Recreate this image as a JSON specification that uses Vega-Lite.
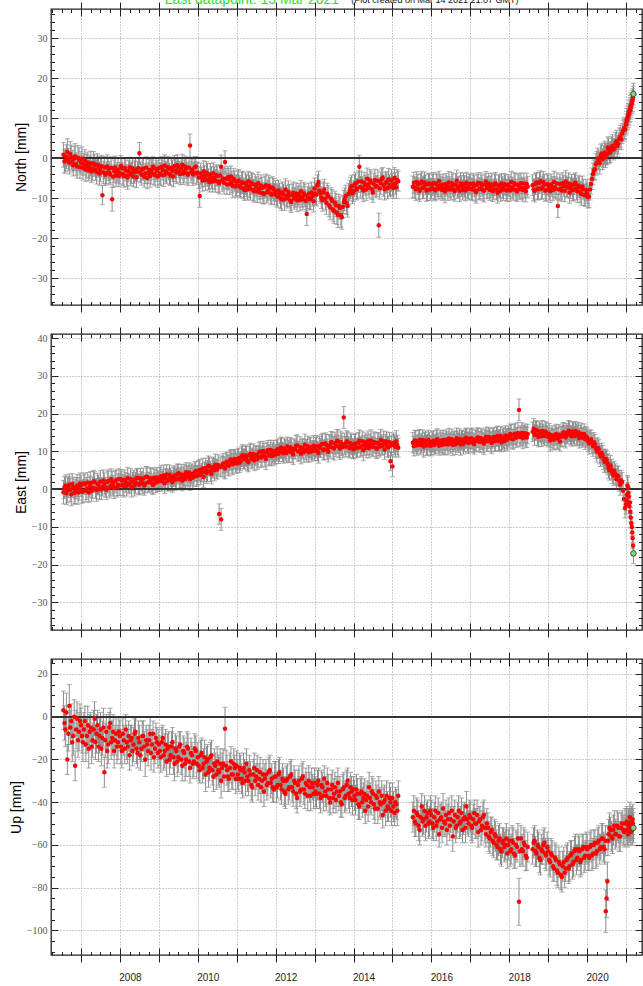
{
"$schema": "https://vega.github.io/schema/vega-lite/v6.json",
"padding": {"left": 8, "top": -8, "right": 0, "bottom": 0},
"background": "white",
"title": {"text": "Last datapoint: 13 Mar 2021", "anchor": "start", "dx": 156, "dy": 12, "offset": 0, "fontSize": 14, "font": "Liberation Sans", "fontWeight": "normal", "color": "#33dd33"},
"data": {"values": [
{"t":2006.55,"n":0.8,"e":-0.8,"u":3,"sh":3.1,"sv":9},
{"t":2006.575,"n":-0.9,"e":0.4,"u":-3,"sh":2.9,"sv":8},
{"t":2006.60,"n":-0.6,"e":0.9,"u":-6,"sh":2.9,"sv":8},
{"t":2006.625,"n":0.3,"e":-1.1,"u":2,"sh":3.0,"sv":9},
{"t":2006.65,"n":1.5,"e":-0.3,"u":-20,"sh":3.3,"sv":7},
{"t":2006.675,"n":-0.4,"e":0.6,"u":-8,"sh":2.8,"sv":8},
{"t":2006.70,"n":-1.2,"e":1.2,"u":5,"sh":2.8,"sv":10},
{"t":2006.725,"n":1.0,"e":-0.2,"u":-5,"sh":3.1,"sv":8},
{"t":2006.75,"n":0.2,"e":-1.4,"u":-2,"sh":3.0,"sv":8},
{"t":2006.775,"n":-0.8,"e":1.4,"u":-12,"sh":2.7,"sv":9},
{"t":2006.80,"n":-1.8,"e":0.5,"u":-9,"sh":2.7,"sv":9},
{"t":2006.825,"n":-0.1,"e":-1.0,"u":0,"sh":3.0,"sv":8},
{"t":2006.85,"n":0.4,"e":-0.6,"u":-23,"sh":3.2,"sv":7},
{"t":2006.875,"n":-1.5,"e":0.3,"u":-6,"sh":2.8,"sv":9},
{"t":2006.90,"n":-2.1,"e":1.0,"u":-1,"sh":2.9,"sv":8},
{"t":2006.925,"n":0.0,"e":-0.9,"u":-11,"sh":3.1,"sv":8},
{"t":2006.95,"n":-0.5,"e":0.1,"u":-7,"sh":3.0,"sv":9},
{"t":2006.975,"n":-2.3,"e":1.5,"u":-2,"sh":2.8,"sv":8},
{"t":2007.00,"n":-1.2,"e":0.9,"u":-4,"sh":2.8,"sv":8},
{"t":2007.025,"n":-0.2,"e":-0.7,"u":-9,"sh":3.0,"sv":8},
{"t":2007.05,"n":-2.5,"e":-0.5,"u":-12,"sh":3.0,"sv":9},
{"t":2007.075,"n":-1.6,"e":1.6,"u":-6,"sh":2.7,"sv":8},
{"t":2007.10,"n":-0.6,"e":1.3,"u":-2,"sh":2.7,"sv":7},
{"t":2007.125,"n":-2.9,"e":-0.4,"u":-13,"sh":2.9,"sv":8},
{"t":2007.15,"n":-2.0,"e":0.2,"u":-9,"sh":2.9,"sv":8},
{"t":2007.175,"n":-1.1,"e":1.8,"u":-4,"sh":2.6,"sv":9},
{"t":2007.20,"n":-3.1,"e":-0.9,"u":-15,"sh":2.6,"sv":9},
{"t":2007.225,"n":-2.3,"e":0.7,"u":-7,"sh":2.8,"sv":8},
{"t":2007.25,"n":-1.4,"e":1.6,"u":-5,"sh":3.1,"sv":7},
{"t":2007.275,"n":-3.4,"e":-0.5,"u":-14,"sh":2.7,"sv":8},
{"t":2007.30,"n":-2.8,"e":0.4,"u":-11,"sh":2.8,"sv":8},
{"t":2007.325,"n":-1.3,"e":2.1,"u":-6,"sh":2.9,"sv":9},
{"t":2007.35,"n":-1.9,"e":1.9,"u":-1,"sh":2.7,"sv":8},
{"t":2007.375,"n":-3.0,"e":0.1,"u":-12,"sh":2.6,"sv":8},
{"t":2007.40,"n":-3.5,"e":-0.2,"u":-8,"sh":3.0,"sv":9},
{"t":2007.425,"n":-1.7,"e":1.4,"u":-4,"sh":2.8,"sv":7},
{"t":2007.45,"n":-2.2,"e":1.1,"u":-14,"sh":2.6,"sv":7},
{"t":2007.475,"n":-3.9,"e":0.2,"u":-9,"sh":2.9,"sv":8},
{"t":2007.50,"n":-3.0,"e":2.0,"u":-6,"sh":2.9,"sv":8},
{"t":2007.525,"n":-2.0,"e":0.0,"u":-15,"sh":2.7,"sv":8},
{"t":2007.55,"n":-9.3,"e":0.6,"u":-10,"sh":2.4,"sv":8},
{"t":2007.575,"n":-3.6,"e":2.3,"u":-5,"sh":2.8,"sv":9},
{"t":2007.60,"n":-2.4,"e":1.5,"u":-26,"sh":2.8,"sv":7},
{"t":2007.625,"n":-4.2,"e":0.5,"u":-11,"sh":2.6,"sv":8},
{"t":2007.65,"n":-3.8,"e":-0.1,"u":-7,"sh":2.7,"sv":8},
{"t":2007.675,"n":-2.1,"e":1.9,"u":-16,"sh":2.9,"sv":8},
{"t":2007.70,"n":-2.7,"e":2.2,"u":-13,"sh":2.9,"sv":9},
{"t":2007.725,"n":-3.6,"e":0.4,"u":-5,"sh":2.7,"sv":7},
{"t":2007.75,"n":-4.1,"e":0.8,"u":-3,"sh":2.6,"sv":7},
{"t":2007.775,"n":-2.5,"e":2.6,"u":-12,"sh":2.8,"sv":8},
{"t":2007.80,"n":-10.3,"e":1.7,"u":-10,"sh":3.0,"sv":8},
{"t":2007.825,"n":-4.6,"e":0.9,"u":-7,"sh":2.7,"sv":8},
{"t":2007.85,"n":-3.3,"e":0.3,"u":-16,"sh":2.8,"sv":8},
{"t":2007.875,"n":-2.4,"e":2.0,"u":-11,"sh":2.9,"sv":7},
{"t":2007.90,"n":-4.4,"e":2.4,"u":-8,"sh":2.7,"sv":7},
{"t":2007.925,"n":-3.7,"e":0.5,"u":-14,"sh":2.6,"sv":8},
{"t":2007.95,"n":-2.9,"e":1.2,"u":-12,"sh":2.9,"sv":8},
{"t":2007.975,"n":-4.5,"e":2.7,"u":-7,"sh":2.7,"sv":7},
{"t":2008.00,"n":-3.8,"e":1.0,"u":-9,"sh":2.7,"sv":7},
{"t":2008.025,"n":-2.0,"e":2.6,"u":-14,"sh":2.6,"sv":8},
{"t":2008.05,"n":-2.6,"e":2.3,"u":-16,"sh":2.5,"sv":8},
{"t":2008.075,"n":-4.0,"e":1.1,"u":-8,"sh":2.8,"sv":7},
{"t":2008.10,"n":-4.5,"e":0.7,"u":-11,"sh":2.8,"sv":7},
{"t":2008.125,"n":-2.5,"e":2.5,"u":-15,"sh":2.6,"sv":7},
{"t":2008.15,"n":-3.1,"e":1.8,"u":-6,"sh":2.6,"sv":7},
{"t":2008.175,"n":-4.4,"e":0.9,"u":-12,"sh":2.7,"sv":8},
{"t":2008.20,"n":-4.9,"e":2.9,"u":-14,"sh":2.9,"sv":8},
{"t":2008.225,"n":-3.3,"e":1.6,"u":-9,"sh":2.6,"sv":7},
{"t":2008.25,"n":-2.3,"e":1.3,"u":-18,"sh":2.5,"sv":7},
{"t":2008.275,"n":-4.1,"e":2.7,"u":-11,"sh":2.8,"sv":7},
{"t":2008.30,"n":-3.7,"e":0.6,"u":-10,"sh":2.7,"sv":6},
{"t":2008.325,"n":-2.6,"e":2.0,"u":-16,"sh":2.5,"sv":7},
{"t":2008.35,"n":-4.6,"e":2.4,"u":-13,"sh":2.6,"sv":8},
{"t":2008.375,"n":-3.5,"e":1.0,"u":-8,"sh":2.8,"sv":7},
{"t":2008.40,"n":-2.9,"e":1.7,"u":-7,"sh":2.8,"sv":7},
{"t":2008.425,"n":-4.8,"e":2.8,"u":-15,"sh":2.6,"sv":7},
{"t":2008.45,"n":-3.4,"e":3.0,"u":-17,"sh":2.5,"sv":7},
{"t":2008.475,"n":-2.5,"e":1.4,"u":-10,"sh":2.7,"sv":8},
{"t":2008.50,"n":1.2,"e":1.2,"u":-12,"sh":2.7,"sv":8},
{"t":2008.525,"n":-3.6,"e":2.9,"u":-18,"sh":2.6,"sv":7},
{"t":2008.55,"n":-4.2,"e":2.1,"u":-15,"sh":2.6,"sv":6},
{"t":2008.575,"n":-2.8,"e":1.6,"u":-9,"sh":2.8,"sv":7},
{"t":2008.60,"n":-2.7,"e":2.8,"u":-9,"sh":2.8,"sv":7},
{"t":2008.625,"n":-4.7,"e":1.0,"u":-14,"sh":2.6,"sv":7},
{"t":2008.65,"n":-3.9,"e":1.5,"u":-20,"sh":2.5,"sv":8},
{"t":2008.675,"n":-2.4,"e":3.3,"u":-11,"sh":2.7,"sv":7},
{"t":2008.70,"n":-5.0,"e":3.2,"u":-13,"sh":2.7,"sv":7},
{"t":2008.725,"n":-3.8,"e":1.8,"u":-16,"sh":2.6,"sv":7},
{"t":2008.75,"n":-3.0,"e":1.9,"u":-11,"sh":2.6,"sv":7},
{"t":2008.775,"n":-4.5,"e":2.9,"u":-8,"sh":2.8,"sv":8},
{"t":2008.80,"n":-3.6,"e":2.6,"u":-17,"sh":2.9,"sv":8},
{"t":2008.825,"n":-2.8,"e":1.5,"u":-13,"sh":2.6,"sv":7},
{"t":2008.85,"n":-2.2,"e":1.1,"u":-8,"sh":2.5,"sv":6},
{"t":2008.875,"n":-4.0,"e":3.0,"u":-19,"sh":2.7,"sv":7},
{"t":2008.90,"n":-4.3,"e":2.5,"u":-15,"sh":2.7,"sv":7},
{"t":2008.925,"n":-2.7,"e":1.7,"u":-10,"sh":2.6,"sv":7},
{"t":2008.95,"n":-3.2,"e":3.1,"u":-12,"sh":2.6,"sv":7},
{"t":2008.975,"n":-4.6,"e":2.2,"u":-17,"sh":2.8,"sv":7},
{"t":2009.00,"n":-2.5,"e":2.0,"u":-13,"sh":2.6,"sv":7},
{"t":2009.025,"n":-3.9,"e":3.0,"u":-16,"sh":2.7,"sv":7},
{"t":2009.05,"n":-4.1,"e":3.4,"u":-19,"sh":2.8,"sv":7},
{"t":2009.075,"n":-2.2,"e":2.1,"u":-12,"sh":2.6,"sv":7},
{"t":2009.10,"n":-3.0,"e":2.7,"u":-10,"sh":2.5,"sv":6},
{"t":2009.125,"n":-4.3,"e":3.6,"u":-18,"sh":2.8,"sv":7},
{"t":2009.15,"n":-1.9,"e":1.6,"u":-16,"sh":2.7,"sv":8},
{"t":2009.175,"n":-3.4,"e":2.9,"u":-13,"sh":2.6,"sv":7},
{"t":2009.20,"n":-3.8,"e":3.9,"u":-21,"sh":2.6,"sv":7},
{"t":2009.225,"n":-2.3,"e":2.2,"u":-15,"sh":2.7,"sv":7},
{"t":2009.25,"n":-2.7,"e":2.4,"u":-14,"sh":2.8,"sv":7},
{"t":2009.275,"n":-4.0,"e":3.8,"u":-20,"sh":2.6,"sv":7},
{"t":2009.30,"n":-4.4,"e":3.1,"u":-18,"sh":2.5,"sv":6},
{"t":2009.325,"n":-2.5,"e":2.3,"u":-14,"sh":2.7,"sv":7},
{"t":2009.35,"n":-3.2,"e":1.9,"u":-12,"sh":2.7,"sv":7},
{"t":2009.375,"n":-4.6,"e":3.3,"u":-19,"sh":2.6,"sv":8},
{"t":2009.40,"n":-2.0,"e":3.6,"u":-22,"sh":2.6,"sv":8},
{"t":2009.425,"n":-3.1,"e":2.5,"u":-15,"sh":2.8,"sv":7},
{"t":2009.45,"n":-3.6,"e":2.8,"u":-16,"sh":2.8,"sv":7},
{"t":2009.475,"n":-1.8,"e":4.0,"u":-21,"sh":2.6,"sv":7},
{"t":2009.50,"n":-2.4,"e":4.2,"u":-19,"sh":2.5,"sv":7},
{"t":2009.525,"n":-3.5,"e":2.6,"u":-14,"sh":2.7,"sv":7},
{"t":2009.55,"n":-4.0,"e":3.0,"u":-13,"sh":2.7,"sv":6},
{"t":2009.575,"n":-2.6,"e":3.9,"u":-20,"sh":2.6,"sv":7},
{"t":2009.60,"n":-1.7,"e":2.2,"u":-23,"sh":2.6,"sv":7},
{"t":2009.625,"n":-3.9,"e":3.2,"u":-16,"sh":2.7,"sv":7},
{"t":2009.65,"n":-3.3,"e":3.8,"u":-17,"sh":2.8,"sv":7},
{"t":2009.675,"n":-2.1,"e":2.7,"u":-22,"sh":2.6,"sv":8},
{"t":2009.70,"n":-2.6,"e":4.5,"u":-20,"sh":2.5,"sv":8},
{"t":2009.725,"n":-3.8,"e":3.6,"u":-14,"sh":2.7,"sv":7},
{"t":2009.75,"n":-4.2,"e":3.3,"u":-15,"sh":2.7,"sv":7},
{"t":2009.775,"n":-2.4,"e":4.4,"u":-21,"sh":2.6,"sv":7},
{"t":2009.80,"n":3.1,"e":2.6,"u":-24,"sh":2.9,"sv":7},
{"t":2009.825,"n":-3.5,"e":3.7,"u":-17,"sh":2.7,"sv":7},
{"t":2009.85,"n":-2.9,"e":4.1,"u":-18,"sh":2.6,"sv":6},
{"t":2009.875,"n":-4.1,"e":3.0,"u":-22,"sh":2.8,"sv":7},
{"t":2009.90,"n":-3.7,"e":3.5,"u":-21,"sh":2.7,"sv":7},
{"t":2009.925,"n":-2.3,"e":4.6,"u":-15,"sh":2.6,"sv":7},
{"t":2009.95,"n":-2.1,"e":4.8,"u":-16,"sh":2.5,"sv":7},
{"t":2009.975,"n":-3.9,"e":3.4,"u":-22,"sh":2.7,"sv":7},
{"t":2010.00,"n":-3.6,"e":3.7,"u":-19,"sh":2.6,"sv":7},
{"t":2010.025,"n":-4.9,"e":4.9,"u":-23,"sh":2.7,"sv":7},
{"t":2010.05,"n":-9.5,"e":5.1,"u":-25,"sh":2.8,"sv":6},
{"t":2010.075,"n":-3.9,"e":3.8,"u":-18,"sh":2.6,"sv":7},
{"t":2010.10,"n":-4.8,"e":4.4,"u":-17,"sh":2.5,"sv":7},
{"t":2010.125,"n":-5.6,"e":5.5,"u":-24,"sh":2.7,"sv":7},
{"t":2010.15,"n":-3.4,"e":3.2,"u":-22,"sh":2.7,"sv":7},
{"t":2010.175,"n":-4.5,"e":4.6,"u":-19,"sh":2.6,"sv":8},
{"t":2010.20,"n":-5.5,"e":5.6,"u":-27,"sh":2.6,"sv":8},
{"t":2010.225,"n":-3.7,"e":4.3,"u":-21,"sh":2.8,"sv":7},
{"t":2010.25,"n":-4.2,"e":4.8,"u":-20,"sh":2.8,"sv":7},
{"t":2010.275,"n":-5.3,"e":6.2,"u":-26,"sh":2.6,"sv":7},
{"t":2010.30,"n":-6.0,"e":6.0,"u":-24,"sh":2.5,"sv":6},
{"t":2010.325,"n":-4.1,"e":4.7,"u":-19,"sh":2.7,"sv":7},
{"t":2010.35,"n":-4.9,"e":4.1,"u":-18,"sh":2.7,"sv":7},
{"t":2010.375,"n":-5.9,"e":5.6,"u":-25,"sh":2.6,"sv":7},
{"t":2010.40,"n":-3.8,"e":5.9,"u":-28,"sh":2.6,"sv":7},
{"t":2010.425,"n":-5.0,"e":5.0,"u":-22,"sh":2.8,"sv":7},
{"t":2010.45,"n":-5.7,"e":6.5,"u":-23,"sh":2.8,"sv":6},
{"t":2010.475,"n":-4.3,"e":5.4,"u":-27,"sh":2.6,"sv":7},
{"t":2010.50,"n":-4.5,"e":5.2,"u":-21,"sh":2.5,"sv":7},
{"t":2010.525,"n":-5.9,"e":6.4,"u":-25,"sh":2.7,"sv":7},
{"t":2010.55,"n":-6.3,"e":-6.6,"u":-26,"sh":2.7,"sv":7},
{"t":2010.575,"n":-4.4,"e":5.9,"u":-22,"sh":2.6,"sv":7},
{"t":2010.60,"n":-2.2,"e":-8.0,"u":-30,"sh":2.9,"sv":8},
{"t":2010.625,"n":-5.6,"e":6.1,"u":-24,"sh":2.7,"sv":7},
{"t":2010.65,"n":-5.1,"e":6.8,"u":-22,"sh":2.6,"sv":7},
{"t":2010.675,"n":-6.2,"e":5.8,"u":-28,"sh":2.8,"sv":7},
{"t":2010.70,"n":-1.0,"e":5.5,"u":-5.6,"sh":2.8,"sv":10},
{"t":2010.725,"n":-5.2,"e":7.0,"u":-23,"sh":2.6,"sv":7},
{"t":2010.75,"n":-6.6,"e":7.3,"u":-25,"sh":2.5,"sv":7},
{"t":2010.775,"n":-4.8,"e":6.4,"u":-28,"sh":2.7,"sv":7},
{"t":2010.80,"n":-5.3,"e":6.2,"u":-29,"sh":2.7,"sv":6},
{"t":2010.825,"n":-6.5,"e":7.6,"u":-24,"sh":2.6,"sv":7},
{"t":2010.85,"n":-4.6,"e":7.9,"u":-21,"sh":2.6,"sv":7},
{"t":2010.875,"n":-6.0,"e":6.9,"u":-27,"sh":2.7,"sv":7},
{"t":2010.90,"n":-7.0,"e":6.6,"u":-27,"sh":2.8,"sv":7},
{"t":2010.925,"n":-5.2,"e":7.7,"u":-22,"sh":2.6,"sv":7},
{"t":2010.95,"n":-5.8,"e":8.0,"u":-24,"sh":2.5,"sv":6},
{"t":2010.975,"n":-7.1,"e":7.2,"u":-29,"sh":2.7,"sv":7},
{"t":2011.00,"n":-6.8,"e":6.8,"u":-23,"sh":2.6,"sv":7},
{"t":2011.025,"n":-5.9,"e":7.9,"u":-27,"sh":2.7,"sv":7},
{"t":2011.05,"n":-5.6,"e":8.2,"u":-29,"sh":2.7,"sv":6},
{"t":2011.075,"n":-7.0,"e":7.0,"u":-24,"sh":2.6,"sv":7},
{"t":2011.10,"n":-7.4,"e":7.4,"u":-25,"sh":2.5,"sv":7},
{"t":2011.125,"n":-6.2,"e":8.7,"u":-29,"sh":2.7,"sv":7},
{"t":2011.15,"n":-6.1,"e":9.0,"u":-31,"sh":2.8,"sv":7},
{"t":2011.175,"n":-7.6,"e":8.1,"u":-24,"sh":2.6,"sv":7},
{"t":2011.20,"n":-8.0,"e":7.9,"u":-26,"sh":2.6,"sv":6},
{"t":2011.225,"n":-6.4,"e":8.9,"u":-30,"sh":2.7,"sv":7},
{"t":2011.25,"n":-6.9,"e":8.6,"u":-22,"sh":2.7,"sv":7},
{"t":2011.275,"n":-7.9,"e":7.5,"u":-28,"sh":2.6,"sv":7},
{"t":2011.30,"n":-5.8,"e":7.1,"u":-30,"sh":2.5,"sv":7},
{"t":2011.325,"n":-7.1,"e":9.0,"u":-25,"sh":2.8,"sv":7},
{"t":2011.35,"n":-7.7,"e":9.4,"u":-27,"sh":2.8,"sv":6},
{"t":2011.375,"n":-6.2,"e":8.0,"u":-32,"sh":2.6,"sv":7},
{"t":2011.40,"n":-6.5,"e":8.3,"u":-33,"sh":2.6,"sv":7},
{"t":2011.425,"n":-8.0,"e":9.3,"u":-27,"sh":2.7,"sv":7},
{"t":2011.45,"n":-8.3,"e":7.6,"u":-24,"sh":2.7,"sv":7},
{"t":2011.475,"n":-6.7,"e":8.8,"u":-30,"sh":2.6,"sv":7},
{"t":2011.50,"n":-7.2,"e":9.1,"u":-28,"sh":2.5,"sv":6},
{"t":2011.525,"n":-8.4,"e":7.9,"u":-25,"sh":2.7,"sv":7},
{"t":2011.55,"n":-6.3,"e":8.5,"u":-32,"sh":2.8,"sv":7},
{"t":2011.575,"n":-7.7,"e":9.7,"u":-29,"sh":2.6,"sv":7},
{"t":2011.60,"n":-8.6,"e":10.0,"u":-26,"sh":2.6,"sv":7},
{"t":2011.625,"n":-6.9,"e":8.4,"u":-33,"sh":2.7,"sv":7},
{"t":2011.65,"n":-7.5,"e":8.8,"u":-30,"sh":2.7,"sv":6},
{"t":2011.675,"n":-8.8,"e":10.1,"u":-27,"sh":2.6,"sv":7},
{"t":2011.70,"n":-9.0,"e":9.6,"u":-35,"sh":2.5,"sv":7},
{"t":2011.725,"n":-7.2,"e":8.6,"u":-29,"sh":2.7,"sv":7},
{"t":2011.75,"n":-6.8,"e":8.0,"u":-27,"sh":2.8,"sv":7},
{"t":2011.775,"n":-8.6,"e":9.8,"u":-32,"sh":2.6,"sv":7},
{"t":2011.80,"n":-8.1,"e":10.3,"u":-31,"sh":2.6,"sv":6},
{"t":2011.825,"n":-7.0,"e":8.9,"u":-26,"sh":2.7,"sv":7},
{"t":2011.85,"n":-7.6,"e":9.2,"u":-25,"sh":2.7,"sv":7},
{"t":2011.875,"n":-8.9,"e":10.4,"u":-31,"sh":2.6,"sv":7},
{"t":2011.90,"n":-9.2,"e":8.7,"u":-29,"sh":2.5,"sv":7},
{"t":2011.925,"n":-7.4,"e":9.6,"u":-33,"sh":2.7,"sv":7},
{"t":2011.95,"n":-7.9,"e":10.1,"u":-34,"sh":2.8,"sv":6},
{"t":2011.975,"n":-9.0,"e":9.0,"u":-28,"sh":2.6,"sv":7},
{"t":2012.00,"n":-8.2,"e":9.3,"u":-28,"sh":2.6,"sv":7},
{"t":2012.025,"n":-9.3,"e":10.3,"u":-33,"sh":2.7,"sv":7},
{"t":2012.05,"n":-9.6,"e":10.6,"u":-32,"sh":2.7,"sv":6},
{"t":2012.075,"n":-8.1,"e":9.4,"u":-27,"sh":2.6,"sv":7},
{"t":2012.10,"n":-8.8,"e":9.8,"u":-26,"sh":2.5,"sv":7},
{"t":2012.125,"n":-9.9,"e":10.9,"u":-32,"sh":2.7,"sv":7},
{"t":2012.15,"n":-10.3,"e":11.0,"u":-34,"sh":2.8,"sv":7},
{"t":2012.175,"n":-8.6,"e":9.9,"u":-29,"sh":2.6,"sv":7},
{"t":2012.20,"n":-9.1,"e":9.5,"u":-30,"sh":2.6,"sv":6},
{"t":2012.225,"n":-10.4,"e":10.8,"u":-35,"sh":2.7,"sv":7},
{"t":2012.25,"n":-7.9,"e":10.4,"u":-36,"sh":2.7,"sv":7},
{"t":2012.275,"n":-9.5,"e":9.6,"u":-30,"sh":2.6,"sv":7},
{"t":2012.30,"n":-10.0,"e":11.3,"u":-29,"sh":2.5,"sv":7},
{"t":2012.325,"n":-8.5,"e":10.2,"u":-34,"sh":2.8,"sv":7},
{"t":2012.35,"n":-9.4,"e":9.9,"u":-33,"sh":2.8,"sv":6},
{"t":2012.375,"n":-10.6,"e":11.1,"u":-28,"sh":2.6,"sv":7},
{"t":2012.40,"n":-11.0,"e":10.8,"u":-27,"sh":2.6,"sv":7},
{"t":2012.425,"n":-9.2,"e":9.7,"u":-33,"sh":2.7,"sv":7},
{"t":2012.45,"n":-8.7,"e":9.2,"u":-35,"sh":2.7,"sv":7},
{"t":2012.475,"n":-10.2,"e":10.7,"u":-30,"sh":2.6,"sv":7},
{"t":2012.50,"n":-9.8,"e":10.5,"u":-31,"sh":2.5,"sv":6},
{"t":2012.525,"n":-8.9,"e":11.5,"u":-36,"sh":2.7,"sv":7},
{"t":2012.55,"n":-10.6,"e":11.6,"u":-38,"sh":2.8,"sv":7},
{"t":2012.575,"n":-9.6,"e":10.0,"u":-32,"sh":2.6,"sv":7},
{"t":2012.60,"n":-9.0,"e":10.1,"u":-30,"sh":2.6,"sv":7},
{"t":2012.625,"n":-10.5,"e":11.2,"u":-35,"sh":2.7,"sv":7},
{"t":2012.65,"n":-8.3,"e":9.4,"u":-34,"sh":2.7,"sv":6},
{"t":2012.675,"n":-9.7,"e":10.6,"u":-29,"sh":2.6,"sv":7},
{"t":2012.70,"n":-10.4,"e":10.9,"u":-28,"sh":2.5,"sv":7},
{"t":2012.725,"n":-8.8,"e":9.8,"u":-34,"sh":2.7,"sv":7},
{"t":2012.75,"n":-9.3,"e":11.8,"u":-36,"sh":2.8,"sv":7},
{"t":2012.775,"n":-10.7,"e":10.5,"u":-31,"sh":2.6,"sv":7},
{"t":2012.80,"n":-14.0,"e":10.3,"u":-32,"sh":2.9,"sv":6},
{"t":2012.825,"n":-9.9,"e":11.4,"u":-37,"sh":2.7,"sv":7},
{"t":2012.85,"n":-8.9,"e":9.7,"u":-30,"sh":2.6,"sv":7},
{"t":2012.875,"n":-10.3,"e":10.9,"u":-33,"sh":2.7,"sv":7},
{"t":2012.90,"n":-10.1,"e":11.1,"u":-37,"sh":2.7,"sv":7},
{"t":2012.925,"n":-8.6,"e":10.0,"u":-31,"sh":2.6,"sv":7},
{"t":2012.95,"n":-9.5,"e":10.4,"u":-33,"sh":2.5,"sv":6},
{"t":2012.975,"n":-10.8,"e":11.5,"u":-36,"sh":2.7,"sv":7},
{"t":2013.00,"n":-7.6,"e":10.2,"u":-31,"sh":2.6,"sv":7},
{"t":2013.025,"n":-8.9,"e":11.0,"u":-35,"sh":2.7,"sv":7},
{"t":2013.05,"n":-9.2,"e":11.4,"u":-36,"sh":2.8,"sv":7},
{"t":2013.075,"n":-6.8,"e":10.1,"u":-32,"sh":2.6,"sv":7},
{"t":2013.10,"n":-6.0,"e":9.6,"u":-30,"sh":2.7,"sv":6},
{"t":2013.125,"n":-8.2,"e":11.3,"u":-36,"sh":2.7,"sv":7},
{"t":2013.15,"n":-8.8,"e":10.9,"u":-38,"sh":2.5,"sv":7},
{"t":2013.175,"n":-9.9,"e":11.8,"u":-32,"sh":2.7,"sv":7},
{"t":2013.20,"n":-10.5,"e":12.0,"u":-33,"sh":2.8,"sv":7},
{"t":2013.225,"n":-8.6,"e":10.3,"u":-37,"sh":2.6,"sv":7},
{"t":2013.25,"n":-7.9,"e":10.5,"u":-29,"sh":2.6,"sv":6},
{"t":2013.275,"n":-10.2,"e":12.1,"u":-35,"sh":2.8,"sv":7},
{"t":2013.30,"n":-11.2,"e":11.7,"u":-37,"sh":2.9,"sv":7},
{"t":2013.325,"n":-9.0,"e":10.6,"u":-31,"sh":2.7,"sv":7},
{"t":2013.35,"n":-9.6,"e":9.9,"u":-34,"sh":2.7,"sv":7},
{"t":2013.375,"n":-11.8,"e":11.6,"u":-38,"sh":2.9,"sv":7},
{"t":2013.40,"n":-12.4,"e":11.2,"u":-40,"sh":3.0,"sv":6},
{"t":2013.425,"n":-10.2,"e":12.5,"u":-34,"sh":2.8,"sv":7},
{"t":2013.45,"n":-10.7,"e":12.3,"u":-32,"sh":2.8,"sv":7},
{"t":2013.475,"n":-12.9,"e":11.0,"u":-38,"sh":3.0,"sv":7},
{"t":2013.50,"n":-13.3,"e":10.8,"u":-36,"sh":3.1,"sv":7},
{"t":2013.525,"n":-11.2,"e":12.2,"u":-33,"sh":2.9,"sv":7},
{"t":2013.55,"n":-11.8,"e":11.5,"u":-39,"sh":2.9,"sv":6},
{"t":2013.575,"n":-13.6,"e":12.8,"u":-35,"sh":3.0,"sv":7},
{"t":2013.60,"n":-14.2,"e":12.6,"u":-31,"sh":3.2,"sv":7},
{"t":2013.625,"n":-12.0,"e":11.3,"u":-37,"sh":2.9,"sv":7},
{"t":2013.65,"n":-12.5,"e":10.7,"u":-35,"sh":2.8,"sv":7},
{"t":2013.675,"n":-14.3,"e":12.4,"u":-40,"sh":3.0,"sv":7},
{"t":2013.70,"n":-14.8,"e":11.9,"u":-41,"sh":3.0,"sv":6},
{"t":2013.725,"n":-12.2,"e":11.1,"u":-34,"sh":2.8,"sv":7},
{"t":2013.75,"n":-11.0,"e":19.0,"u":-33,"sh":2.9,"sv":7},
{"t":2013.775,"n":-10.3,"e":12.0,"u":-38,"sh":2.8,"sv":7},
{"t":2013.80,"n":-9.5,"e":11.3,"u":-37,"sh":2.7,"sv":7},
{"t":2013.825,"n":-11.3,"e":12.7,"u":-32,"sh":2.8,"sv":7},
{"t":2013.85,"n":-12.0,"e":12.4,"u":-30,"sh":2.8,"sv":6},
{"t":2013.875,"n":-9.0,"e":11.2,"u":-36,"sh":2.7,"sv":7},
{"t":2013.90,"n":-8.1,"e":10.9,"u":-38,"sh":2.6,"sv":7},
{"t":2013.925,"n":-7.5,"e":12.2,"u":-33,"sh":2.7,"sv":7},
{"t":2013.95,"n":-7.0,"e":11.8,"u":-35,"sh":2.7,"sv":7},
{"t":2013.975,"n":-8.8,"e":10.8,"u":-39,"sh":2.6,"sv":7},
{"t":2014.00,"n":-8.3,"e":10.6,"u":-34,"sh":2.6,"sv":6},
{"t":2014.025,"n":-6.9,"e":11.8,"u":-37,"sh":2.7,"sv":7},
{"t":2014.05,"n":-6.4,"e":12.1,"u":-39,"sh":2.7,"sv":7},
{"t":2014.075,"n":-7.9,"e":10.9,"u":-34,"sh":2.6,"sv":7},
{"t":2014.10,"n":-7.7,"e":11.0,"u":-36,"sh":2.5,"sv":7},
{"t":2014.125,"n":-5.9,"e":12.3,"u":-41,"sh":2.7,"sv":7},
{"t":2014.15,"n":-2.2,"e":12.8,"u":-42,"sh":2.9,"sv":6},
{"t":2014.175,"n":-7.2,"e":11.1,"u":-36,"sh":2.6,"sv":7},
{"t":2014.20,"n":-5.9,"e":11.4,"u":-35,"sh":2.6,"sv":7},
{"t":2014.225,"n":-7.5,"e":12.7,"u":-40,"sh":2.7,"sv":7},
{"t":2014.25,"n":-8.1,"e":10.3,"u":-38,"sh":2.8,"sv":7},
{"t":2014.275,"n":-6.2,"e":11.6,"u":-36,"sh":2.6,"sv":7},
{"t":2014.30,"n":-6.8,"e":12.4,"u":-44,"sh":2.5,"sv":6},
{"t":2014.325,"n":-7.9,"e":11.0,"u":-39,"sh":2.7,"sv":7},
{"t":2014.35,"n":-5.2,"e":11.7,"u":-37,"sh":2.7,"sv":7},
{"t":2014.375,"n":-6.6,"e":12.8,"u":-42,"sh":2.6,"sv":7},
{"t":2014.40,"n":-7.4,"e":10.9,"u":-33,"sh":2.6,"sv":7},
{"t":2014.425,"n":-5.6,"e":11.9,"u":-38,"sh":2.7,"sv":7},
{"t":2014.45,"n":-6.1,"e":12.9,"u":-40,"sh":2.8,"sv":6},
{"t":2014.475,"n":-7.8,"e":11.4,"u":-35,"sh":2.6,"sv":7},
{"t":2014.50,"n":-8.6,"e":11.2,"u":-36,"sh":2.5,"sv":7},
{"t":2014.525,"n":-6.5,"e":12.5,"u":-41,"sh":2.7,"sv":7},
{"t":2014.55,"n":-5.5,"e":12.2,"u":-43,"sh":2.7,"sv":7},
{"t":2014.575,"n":-7.2,"e":10.9,"u":-37,"sh":2.6,"sv":7},
{"t":2014.60,"n":-7.0,"e":10.7,"u":-38,"sh":2.6,"sv":6},
{"t":2014.625,"n":-5.7,"e":12.3,"u":-43,"sh":2.7,"sv":7},
{"t":2014.65,"n":-16.8,"e":11.9,"u":-35,"sh":3.0,"sv":7},
{"t":2014.675,"n":-7.6,"e":11.2,"u":-40,"sh":2.7,"sv":7},
{"t":2014.70,"n":-6.3,"e":13.0,"u":-41,"sh":2.8,"sv":7},
{"t":2014.725,"n":-5.3,"e":11.8,"u":-37,"sh":2.6,"sv":7},
{"t":2014.75,"n":-4.9,"e":11.5,"u":-46,"sh":2.5,"sv":6},
{"t":2014.775,"n":-6.9,"e":12.7,"u":-40,"sh":2.7,"sv":7},
{"t":2014.80,"n":-7.8,"e":10.5,"u":-39,"sh":2.7,"sv":7},
{"t":2014.825,"n":-6.2,"e":11.9,"u":-44,"sh":2.6,"sv":7},
{"t":2014.85,"n":-6.0,"e":12.6,"u":-37,"sh":2.6,"sv":7},
{"t":2014.875,"n":-7.5,"e":11.3,"u":-42,"sh":2.7,"sv":7},
{"t":2014.90,"n":-5.4,"e":11.1,"u":-43,"sh":2.8,"sv":6},
{"t":2014.925,"n":-6.8,"e":12.4,"u":-38,"sh":2.6,"sv":7},
{"t":2014.95,"n":-7.2,"e":7.4,"u":-40,"sh":2.5,"sv":7},
{"t":2014.975,"n":-5.6,"e":11.6,"u":-44,"sh":2.7,"sv":7},
{"t":2015.00,"n":-6.6,"e":6.0,"u":-38,"sh":2.7,"sv":7},
{"t":2015.025,"n":-7.5,"e":12.3,"u":-42,"sh":2.6,"sv":7},
{"t":2015.05,"n":-5.0,"e":11.8,"u":-45,"sh":2.6,"sv":6},
{"t":2015.075,"n":-6.3,"e":11.2,"u":-40,"sh":2.7,"sv":7},
{"t":2015.10,"n":-7.3,"e":12.7,"u":-41,"sh":2.8,"sv":7},
{"t":2015.125,"n":-5.5,"e":11.7,"u":-44,"sh":2.6,"sv":7},
{"t":2015.15,"n":-5.8,"e":11.0,"u":-37,"sh":2.5,"sv":7},
{"t":2015.525,"n":-7.2,"e":12.3,"u":-47,"sh":2.7,"sv":7},
{"t":2015.55,"n":-6.2,"e":11.4,"u":-44,"sh":2.6,"sv":7},
{"t":2015.575,"n":-7.4,"e":12.9,"u":-49,"sh":2.7,"sv":7},
{"t":2015.60,"n":-7.8,"e":12.7,"u":-50,"sh":2.8,"sv":6},
{"t":2015.625,"n":-6.0,"e":11.6,"u":-45,"sh":2.6,"sv":7},
{"t":2015.65,"n":-6.6,"e":11.9,"u":-46,"sh":2.5,"sv":7},
{"t":2015.675,"n":-7.7,"e":12.8,"u":-51,"sh":2.7,"sv":7},
{"t":2015.70,"n":-8.2,"e":13.1,"u":-53,"sh":2.7,"sv":7},
{"t":2015.725,"n":-6.4,"e":11.7,"u":-47,"sh":2.6,"sv":7},
{"t":2015.75,"n":-5.9,"e":12.2,"u":-42,"sh":2.6,"sv":6},
{"t":2015.775,"n":-7.5,"e":13.0,"u":-49,"sh":2.7,"sv":7},
{"t":2015.80,"n":-7.3,"e":11.3,"u":-48,"sh":2.8,"sv":7},
{"t":2015.825,"n":-6.1,"e":12.4,"u":-44,"sh":2.6,"sv":7},
{"t":2015.85,"n":-6.7,"e":12.9,"u":-51,"sh":2.5,"sv":7},
{"t":2015.875,"n":-8.1,"e":11.6,"u":-47,"sh":2.7,"sv":7},
{"t":2015.90,"n":-8.0,"e":11.8,"u":-45,"sh":2.7,"sv":6},
{"t":2015.925,"n":-6.5,"e":13.0,"u":-50,"sh":2.6,"sv":7},
{"t":2015.95,"n":-6.4,"e":12.5,"u":-49,"sh":2.6,"sv":7},
{"t":2015.975,"n":-7.9,"e":11.5,"u":-44,"sh":2.7,"sv":7},
{"t":2016.00,"n":-7.6,"e":11.6,"u":-46,"sh":2.5,"sv":7},
{"t":2016.025,"n":-6.7,"e":12.5,"u":-50,"sh":2.7,"sv":7},
{"t":2016.05,"n":-6.3,"e":12.8,"u":-52,"sh":2.7,"sv":6},
{"t":2016.075,"n":-7.8,"e":11.7,"u":-47,"sh":2.6,"sv":7},
{"t":2016.10,"n":-8.1,"e":12.0,"u":-44,"sh":2.6,"sv":7},
{"t":2016.125,"n":-6.4,"e":13.0,"u":-51,"sh":2.7,"sv":7},
{"t":2016.15,"n":-6.9,"e":13.2,"u":-49,"sh":2.8,"sv":7},
{"t":2016.175,"n":-7.7,"e":12.2,"u":-45,"sh":2.6,"sv":7},
{"t":2016.20,"n":-5.8,"e":11.5,"u":-55,"sh":2.5,"sv":6},
{"t":2016.225,"n":-6.9,"e":12.9,"u":-48,"sh":2.7,"sv":7},
{"t":2016.25,"n":-7.4,"e":12.4,"u":-47,"sh":2.7,"sv":7},
{"t":2016.275,"n":-8.0,"e":11.7,"u":-52,"sh":2.6,"sv":7},
{"t":2016.30,"n":-6.6,"e":13.0,"u":-43,"sh":2.6,"sv":7},
{"t":2016.325,"n":-7.6,"e":12.1,"u":-49,"sh":2.7,"sv":7},
{"t":2016.35,"n":-8.4,"e":11.9,"u":-50,"sh":2.8,"sv":6},
{"t":2016.375,"n":-6.5,"e":13.1,"u":-46,"sh":2.6,"sv":7},
{"t":2016.40,"n":-7.0,"e":12.7,"u":-53,"sh":2.5,"sv":7},
{"t":2016.425,"n":-7.9,"e":11.8,"u":-48,"sh":2.7,"sv":7},
{"t":2016.45,"n":-6.1,"e":13.4,"u":-45,"sh":2.7,"sv":7},
{"t":2016.475,"n":-7.3,"e":12.5,"u":-51,"sh":2.6,"sv":7},
{"t":2016.50,"n":-7.9,"e":12.1,"u":-48,"sh":2.6,"sv":6},
{"t":2016.525,"n":-6.3,"e":13.2,"u":-44,"sh":2.7,"sv":7},
{"t":2016.55,"n":-6.8,"e":11.7,"u":-56,"sh":2.8,"sv":7},
{"t":2016.575,"n":-7.8,"e":12.6,"u":-49,"sh":2.6,"sv":7},
{"t":2016.60,"n":-8.3,"e":12.9,"u":-46,"sh":2.5,"sv":7},
{"t":2016.625,"n":-6.6,"e":11.9,"u":-52,"sh":2.7,"sv":7},
{"t":2016.65,"n":-5.7,"e":13.5,"u":-51,"sh":2.7,"sv":6},
{"t":2016.675,"n":-7.5,"e":12.8,"u":-47,"sh":2.6,"sv":7},
{"t":2016.70,"n":-7.2,"e":12.3,"u":-44,"sh":2.6,"sv":7},
{"t":2016.725,"n":-8.2,"e":13.3,"u":-50,"sh":2.7,"sv":7},
{"t":2016.75,"n":-6.4,"e":11.8,"u":-49,"sh":2.8,"sv":7},
{"t":2016.775,"n":-7.0,"e":12.9,"u":-45,"sh":2.6,"sv":7},
{"t":2016.80,"n":-8.0,"e":13.1,"u":-53,"sh":2.5,"sv":6},
{"t":2016.825,"n":-6.5,"e":12.0,"u":-48,"sh":2.7,"sv":7},
{"t":2016.85,"n":-7.1,"e":12.6,"u":-47,"sh":2.7,"sv":7},
{"t":2016.875,"n":-8.1,"e":13.4,"u":-52,"sh":2.6,"sv":7},
{"t":2016.90,"n":-6.2,"e":13.6,"u":-42,"sh":2.6,"sv":7},
{"t":2016.925,"n":-7.4,"e":12.5,"u":-48,"sh":2.7,"sv":7},
{"t":2016.95,"n":-7.7,"e":12.2,"u":-50,"sh":2.8,"sv":6},
{"t":2016.975,"n":-6.6,"e":13.3,"u":-46,"sh":2.6,"sv":7},
{"t":2017.00,"n":-6.5,"e":12.4,"u":-47,"sh":2.5,"sv":7},
{"t":2017.025,"n":-7.7,"e":13.5,"u":-51,"sh":2.7,"sv":7},
{"t":2017.05,"n":-7.9,"e":13.3,"u":-52,"sh":2.7,"sv":7},
{"t":2017.075,"n":-6.4,"e":12.3,"u":-48,"sh":2.6,"sv":7},
{"t":2017.10,"n":-7.0,"e":11.9,"u":-45,"sh":2.6,"sv":6},
{"t":2017.125,"n":-8.1,"e":13.0,"u":-50,"sh":2.7,"sv":7},
{"t":2017.15,"n":-8.5,"e":12.8,"u":-50,"sh":2.8,"sv":7},
{"t":2017.175,"n":-6.7,"e":13.6,"u":-46,"sh":2.6,"sv":7},
{"t":2017.20,"n":-6.2,"e":13.7,"u":-54,"sh":2.5,"sv":7},
{"t":2017.225,"n":-7.8,"e":12.6,"u":-49,"sh":2.7,"sv":7},
{"t":2017.25,"n":-7.6,"e":12.5,"u":-48,"sh":2.7,"sv":6},
{"t":2017.275,"n":-6.3,"e":13.5,"u":-53,"sh":2.6,"sv":7},
{"t":2017.30,"n":-6.9,"e":13.1,"u":-51,"sh":2.6,"sv":7},
{"t":2017.325,"n":-8.0,"e":12.4,"u":-47,"sh":2.7,"sv":7},
{"t":2017.35,"n":-8.2,"e":12.0,"u":-46,"sh":2.8,"sv":7},
{"t":2017.375,"n":-6.6,"e":13.3,"u":-52,"sh":2.6,"sv":7},
{"t":2017.40,"n":-5.9,"e":13.9,"u":-55,"sh":2.5,"sv":6},
{"t":2017.425,"n":-7.5,"e":12.8,"u":-50,"sh":2.7,"sv":7},
{"t":2017.45,"n":-7.3,"e":12.7,"u":-52,"sh":2.7,"sv":7},
{"t":2017.475,"n":-6.4,"e":13.8,"u":-56,"sh":2.6,"sv":7},
{"t":2017.50,"n":-8.0,"e":13.4,"u":-57,"sh":2.6,"sv":7},
{"t":2017.525,"n":-7.2,"e":12.6,"u":-54,"sh":2.7,"sv":7},
{"t":2017.55,"n":-6.6,"e":12.2,"u":-53,"sh":2.8,"sv":6},
{"t":2017.575,"n":-8.3,"e":13.5,"u":-58,"sh":2.6,"sv":7},
{"t":2017.60,"n":-7.8,"e":13.8,"u":-59,"sh":2.5,"sv":7},
{"t":2017.625,"n":-6.7,"e":12.7,"u":-55,"sh":2.7,"sv":7},
{"t":2017.65,"n":-6.3,"e":12.9,"u":-56,"sh":2.7,"sv":7},
{"t":2017.675,"n":-7.9,"e":13.9,"u":-60,"sh":2.6,"sv":7},
{"t":2017.70,"n":-8.7,"e":14.1,"u":-61,"sh":2.6,"sv":6},
{"t":2017.725,"n":-6.9,"e":12.8,"u":-58,"sh":2.7,"sv":7},
{"t":2017.75,"n":-7.1,"e":13.0,"u":-57,"sh":2.8,"sv":7},
{"t":2017.775,"n":-8.2,"e":14.0,"u":-62,"sh":2.6,"sv":7},
{"t":2017.80,"n":-6.4,"e":12.4,"u":-63,"sh":2.5,"sv":7},
{"t":2017.825,"n":-7.4,"e":13.2,"u":-59,"sh":2.7,"sv":7},
{"t":2017.85,"n":-7.9,"e":13.6,"u":-58,"sh":2.7,"sv":6},
{"t":2017.875,"n":-6.5,"e":12.7,"u":-61,"sh":2.6,"sv":7},
{"t":2017.90,"n":-6.8,"e":14.2,"u":-60,"sh":2.6,"sv":7},
{"t":2017.925,"n":-8.0,"e":13.4,"u":-57,"sh":2.7,"sv":7},
{"t":2017.95,"n":-8.1,"e":13.1,"u":-64,"sh":2.8,"sv":7},
{"t":2017.975,"n":-6.7,"e":14.1,"u":-60,"sh":2.6,"sv":7},
{"t":2018.00,"n":-7.2,"e":13.6,"u":-58,"sh":2.5,"sv":6},
{"t":2018.025,"n":-8.1,"e":14.6,"u":-63,"sh":2.7,"sv":7},
{"t":2018.05,"n":-6.0,"e":14.4,"u":-62,"sh":2.7,"sv":7},
{"t":2018.075,"n":-7.4,"e":13.3,"u":-58,"sh":2.6,"sv":7},
{"t":2018.10,"n":-7.9,"e":13.2,"u":-59,"sh":2.6,"sv":7},
{"t":2018.125,"n":-6.3,"e":14.5,"u":-64,"sh":2.7,"sv":7},
{"t":2018.15,"n":-6.7,"e":14.7,"u":-65,"sh":2.8,"sv":6},
{"t":2018.175,"n":-8.0,"e":13.6,"u":-60,"sh":2.6,"sv":7},
{"t":2018.20,"n":-8.4,"e":13.9,"u":-61,"sh":2.5,"sv":7},
{"t":2018.225,"n":-6.6,"e":14.9,"u":-57,"sh":2.7,"sv":7},
{"t":2018.25,"n":-7.1,"e":21.0,"u":-86.6,"sh":2.9,"sv":11},
{"t":2018.275,"n":-7.8,"e":13.8,"u":-63,"sh":2.6,"sv":7},
{"t":2018.30,"n":-6.3,"e":14.2,"u":-57,"sh":2.6,"sv":6},
{"t":2018.325,"n":-7.5,"e":14.9,"u":-62,"sh":2.7,"sv":7},
{"t":2018.35,"n":-8.0,"e":13.5,"u":-63,"sh":2.8,"sv":7},
{"t":2018.375,"n":-6.4,"e":14.3,"u":-59,"sh":2.6,"sv":7},
{"t":2018.40,"n":-7.5,"e":14.8,"u":-60,"sh":2.5,"sv":7},
{"t":2018.425,"n":-8.3,"e":13.9,"u":-65,"sh":2.7,"sv":7},
{"t":2018.45,"n":-6.5,"e":13.7,"u":-66,"sh":2.7,"sv":6},
{"t":2018.475,"n":-7.2,"e":14.6,"u":-61,"sh":2.6,"sv":7},
{"t":2018.60,"n":-6.8,"e":15.2,"u":-62,"sh":2.6,"sv":7},
{"t":2018.625,"n":-7.9,"e":16.0,"u":-59,"sh":2.7,"sv":7},
{"t":2018.65,"n":-8.2,"e":14.4,"u":-58,"sh":2.8,"sv":7},
{"t":2018.675,"n":-6.5,"e":15.5,"u":-63,"sh":2.6,"sv":7},
{"t":2018.70,"n":-6.1,"e":15.6,"u":-64,"sh":2.5,"sv":6},
{"t":2018.725,"n":-7.8,"e":14.3,"u":-60,"sh":2.7,"sv":7},
{"t":2018.75,"n":-7.6,"e":13.9,"u":-61,"sh":2.7,"sv":7},
{"t":2018.775,"n":-6.2,"e":15.3,"u":-66,"sh":2.6,"sv":7},
{"t":2018.80,"n":-5.8,"e":14.9,"u":-67,"sh":2.6,"sv":7},
{"t":2018.825,"n":-7.7,"e":14.0,"u":-62,"sh":2.7,"sv":7},
{"t":2018.85,"n":-7.3,"e":15.4,"u":-63,"sh":2.8,"sv":6},
{"t":2018.875,"n":-6.0,"e":14.6,"u":-60,"sh":2.6,"sv":7},
{"t":2018.90,"n":-6.6,"e":14.1,"u":-59,"sh":2.5,"sv":7},
{"t":2018.925,"n":-8.1,"e":15.3,"u":-64,"sh":2.7,"sv":7},
{"t":2018.95,"n":-8.0,"e":15.0,"u":-65,"sh":2.7,"sv":7},
{"t":2018.975,"n":-6.5,"e":14.2,"u":-61,"sh":2.6,"sv":7},
{"t":2019.00,"n":-6.9,"e":13.8,"u":-63,"sh":2.6,"sv":6},
{"t":2019.025,"n":-7.8,"e":14.7,"u":-67,"sh":2.7,"sv":7},
{"t":2019.05,"n":-8.3,"e":12.9,"u":-68,"sh":2.8,"sv":7},
{"t":2019.075,"n":-6.6,"e":13.6,"u":-64,"sh":2.6,"sv":7},
{"t":2019.10,"n":-7.2,"e":14.3,"u":-65,"sh":2.5,"sv":7},
{"t":2019.125,"n":-8.0,"e":13.3,"u":-70,"sh":2.7,"sv":7},
{"t":2019.15,"n":-6.0,"e":13.1,"u":-71,"sh":2.7,"sv":6},
{"t":2019.175,"n":-7.3,"e":14.2,"u":-66,"sh":2.6,"sv":7},
{"t":2019.20,"n":-7.7,"e":14.6,"u":-67,"sh":2.6,"sv":7},
{"t":2019.225,"n":-6.4,"e":13.5,"u":-72,"sh":2.7,"sv":7},
{"t":2019.25,"n":-12.0,"e":13.4,"u":-73,"sh":2.9,"sv":7},
{"t":2019.275,"n":-7.9,"e":14.4,"u":-68,"sh":2.7,"sv":7},
{"t":2019.30,"n":-6.5,"e":12.6,"u":-69,"sh":2.5,"sv":6},
{"t":2019.325,"n":-7.6,"e":13.9,"u":-74,"sh":2.7,"sv":7},
{"t":2019.35,"n":-8.1,"e":14.0,"u":-75,"sh":2.7,"sv":7},
{"t":2019.375,"n":-6.3,"e":14.9,"u":-70,"sh":2.6,"sv":7},
{"t":2019.40,"n":-7.0,"e":15.1,"u":-68,"sh":2.6,"sv":7},
{"t":2019.425,"n":-8.2,"e":14.1,"u":-73,"sh":2.7,"sv":7},
{"t":2019.45,"n":-5.9,"e":13.7,"u":-71,"sh":2.8,"sv":6},
{"t":2019.475,"n":-7.1,"e":14.8,"u":-67,"sh":2.6,"sv":7},
{"t":2019.50,"n":-7.4,"e":14.5,"u":-66,"sh":2.5,"sv":7},
{"t":2019.525,"n":-6.4,"e":15.5,"u":-71,"sh":2.7,"sv":7},
{"t":2019.55,"n":-8.6,"e":15.3,"u":-70,"sh":2.7,"sv":7},
{"t":2019.575,"n":-7.5,"e":14.3,"u":-65,"sh":2.6,"sv":7},
{"t":2019.60,"n":-6.7,"e":14.0,"u":-64,"sh":2.6,"sv":6},
{"t":2019.625,"n":-8.0,"e":15.2,"u":-69,"sh":2.7,"sv":7},
{"t":2019.65,"n":-7.9,"e":14.8,"u":-68,"sh":2.8,"sv":7},
{"t":2019.675,"n":-6.6,"e":14.1,"u":-63,"sh":2.6,"sv":7},
{"t":2019.70,"n":-6.2,"e":15.4,"u":-62,"sh":2.5,"sv":7},
{"t":2019.725,"n":-7.7,"e":14.6,"u":-67,"sh":2.7,"sv":7},
{"t":2019.75,"n":-8.4,"e":14.2,"u":-66,"sh":2.7,"sv":6},
{"t":2019.775,"n":-6.9,"e":15.1,"u":-62,"sh":2.6,"sv":7},
{"t":2019.80,"n":-7.3,"e":13.5,"u":-63,"sh":2.6,"sv":7},
{"t":2019.825,"n":-8.5,"e":14.3,"u":-68,"sh":2.7,"sv":7},
{"t":2019.85,"n":-9.0,"e":14.7,"u":-67,"sh":2.8,"sv":7},
{"t":2019.875,"n":-7.1,"e":13.7,"u":-62,"sh":2.6,"sv":7},
{"t":2019.90,"n":-7.8,"e":13.9,"u":-61,"sh":2.5,"sv":6},
{"t":2019.925,"n":-9.2,"e":14.6,"u":-66,"sh":2.7,"sv":7},
{"t":2019.95,"n":-9.4,"e":13.2,"u":-65,"sh":2.7,"sv":7},
{"t":2019.975,"n":-8.0,"e":14.0,"u":-61,"sh":2.6,"sv":7},
{"t":2020.00,"n":-8.8,"e":13.6,"u":-62,"sh":2.6,"sv":7},
{"t":2020.025,"n":-9.8,"e":12.7,"u":-65,"sh":2.7,"sv":7},
{"t":2020.05,"n":-9.6,"e":12.1,"u":-66,"sh":2.8,"sv":6},
{"t":2020.075,"n":-7.9,"e":13.0,"u":-61,"sh":2.6,"sv":7},
{"t":2020.10,"n":-6.5,"e":13.2,"u":-60,"sh":2.5,"sv":7},
{"t":2020.125,"n":-5.2,"e":12.2,"u":-65,"sh":2.7,"sv":7},
{"t":2020.15,"n":-4.0,"e":11.4,"u":-64,"sh":2.7,"sv":7},
{"t":2020.175,"n":-3.1,"e":12.4,"u":-60,"sh":2.6,"sv":7},
{"t":2020.20,"n":-2.8,"e":11.9,"u":-59,"sh":2.6,"sv":6},
{"t":2020.225,"n":-1.6,"e":10.8,"u":-64,"sh":2.7,"sv":7},
{"t":2020.25,"n":-1.2,"e":10.0,"u":-63,"sh":2.8,"sv":7},
{"t":2020.275,"n":-0.1,"e":11.0,"u":-59,"sh":2.6,"sv":7},
{"t":2020.30,"n":-0.5,"e":10.6,"u":-58,"sh":2.5,"sv":7},
{"t":2020.325,"n":-1.3,"e":9.4,"u":-62,"sh":2.7,"sv":7},
{"t":2020.35,"n":0.6,"e":8.7,"u":-61,"sh":2.7,"sv":6},
{"t":2020.375,"n":1.1,"e":9.6,"u":-57,"sh":2.6,"sv":7},
{"t":2020.40,"n":-0.3,"e":9.0,"u":-57,"sh":2.6,"sv":7},
{"t":2020.425,"n":0.4,"e":7.9,"u":-61,"sh":2.7,"sv":7},
{"t":2020.45,"n":1.4,"e":7.2,"u":-62,"sh":2.8,"sv":7},
{"t":2020.475,"n":0.2,"e":8.0,"u":-58,"sh":2.6,"sv":7},
{"t":2020.48,"n":1.0,"e":7.4,"u":-91,"sh":2.7,"sv":10},
{"t":2020.50,"n":0.8,"e":7.8,"u":-85,"sh":2.5,"sv":9},
{"t":2020.52,"n":1.1,"e":6.9,"u":-77,"sh":2.6,"sv":9},
{"t":2020.535,"n":2.6,"e":6.5,"u":-58,"sh":2.7,"sv":7},
{"t":2020.55,"n":2.2,"e":5.6,"u":-55,"sh":2.7,"sv":7},
{"t":2020.575,"n":1.3,"e":5.0,"u":-52,"sh":2.6,"sv":7},
{"t":2020.60,"n":1.5,"e":6.3,"u":-53,"sh":2.6,"sv":6},
{"t":2020.625,"n":2.6,"e":5.2,"u":-56,"sh":2.7,"sv":7},
{"t":2020.65,"n":3.0,"e":4.3,"u":-57,"sh":2.8,"sv":7},
{"t":2020.675,"n":2.1,"e":3.6,"u":-53,"sh":2.6,"sv":7},
{"t":2020.70,"n":2.4,"e":4.9,"u":-51,"sh":2.5,"sv":7},
{"t":2020.725,"n":3.7,"e":4.0,"u":-55,"sh":2.7,"sv":7},
{"t":2020.75,"n":4.2,"e":2.7,"u":-55,"sh":2.7,"sv":6},
{"t":2020.775,"n":3.0,"e":3.6,"u":-51,"sh":2.6,"sv":7},
{"t":2020.80,"n":3.6,"e":3.4,"u":-52,"sh":2.6,"sv":7},
{"t":2020.825,"n":4.8,"e":2.2,"u":-56,"sh":2.7,"sv":7},
{"t":2020.85,"n":5.4,"e":1.2,"u":-56,"sh":2.8,"sv":7},
{"t":2020.875,"n":4.7,"e":2.4,"u":-52,"sh":2.6,"sv":7},
{"t":2020.90,"n":6.1,"e":1.9,"u":-50,"sh":2.5,"sv":6},
{"t":2020.925,"n":6.8,"e":-0.4,"u":-53,"sh":2.7,"sv":7},
{"t":2020.95,"n":7.5,"e":-2.6,"u":-54,"sh":2.7,"sv":7},
{"t":2020.975,"n":7.1,"e":-5.0,"u":-50,"sh":2.6,"sv":7},
{"t":2021.00,"n":8.4,"e":-4.0,"u":-53,"sh":2.6,"sv":7},
{"t":2021.01,"n":9.0,"e":-3.0,"u":-50,"sh":2.7,"sv":7},
{"t":2021.02,"n":9.6,"e":-1.5,"u":-49,"sh":2.8,"sv":7},
{"t":2021.035,"n":9.8,"e":1.0,"u":-53,"sh":2.6,"sv":7},
{"t":2021.05,"n":10.3,"e":0.5,"u":-55,"sh":2.7,"sv":6},
{"t":2021.06,"n":10.8,"e":-1.0,"u":-51,"sh":2.7,"sv":7},
{"t":2021.07,"n":11.0,"e":-2.0,"u":-50,"sh":2.6,"sv":7},
{"t":2021.085,"n":11.6,"e":-4.5,"u":-52,"sh":2.7,"sv":7},
{"t":2021.10,"n":11.9,"e":-3.5,"u":-47,"sh":2.8,"sv":7},
{"t":2021.11,"n":12.4,"e":-6.0,"u":-50,"sh":2.7,"sv":7},
{"t":2021.12,"n":12.9,"e":-7.5,"u":-54,"sh":2.7,"sv":6},
{"t":2021.135,"n":13.3,"e":-9.0,"u":-49,"sh":2.6,"sv":7},
{"t":2021.15,"n":13.7,"e":-10.0,"u":-51,"sh":2.6,"sv":7},
{"t":2021.16,"n":14.2,"e":-11.5,"u":-53,"sh":2.7,"sv":7},
{"t":2021.17,"n":14.5,"e":-13.0,"u":-48,"sh":2.8,"sv":7},
{"t":2021.18,"n":15.2,"e":-15.0,"u":-50,"sh":2.7,"sv":7},
{"t":2021.19,"n":16.0,"e":-17.0,"u":-52,"sh":2.7,"sv":7}
]},
"spacing": 29,
"bounds": "flush",
"config": {
"view": {"stroke": "#222", "strokeWidth": 1.3},
"axis": {"domain": false, "tickColor": "#222", "tickWidth": 1, "gridColor": "#9a9a9a", "gridDash": [1, 2], "gridWidth": 1, "labelFont": "Liberation Serif", "labelFontSize": 10, "labelColor": "#555", "titleFont": "Liberation Sans", "titleFontSize": 14, "titleFontWeight": "normal", "titleColor": "#000", "labelFlush": false, "labelOverlap": false},
"axisX": {"labelFont": "Liberation Sans", "labelColor": "#222"}
},
"vconcat": [
{
"width": 591, "height": 296,
"title": {"text": "(Plot created on Mar 14 2021 21:07 GMT)", "anchor": "start", "dx": 337, "offset": -3, "fontSize": 9, "font": "Liberation Sans", "fontWeight": "normal", "color": "#111"},
"layer": [
{"mark": {"type": "errorbar", "ticks": {"size": 5}, "color": "#8c8c8c"},
 "encoding": {"x": {"field": "t", "type": "quantitative", "scale": {"domain": [2006.23, 2021.41], "nice": false, "zero": false}, "axis": null},
  "y": {"field": "n", "type": "quantitative", "scale": {"domain": [-36.75, 37.25], "nice": false, "zero": false}, "axis": null},
  "yError": {"field": "sh"}}},
{"mark": {"type": "rule", "color": "#333", "strokeWidth": 1.5},
 "encoding": {"y": {"datum": 0, "type": "quantitative", "scale": {"domain": [-36.75, 37.25], "nice": false, "zero": false},
  "axis": {"orient": "left", "values": [-30, -20, -10, 0, 10, 20, 30], "grid": true, "ticks": false, "labelPadding": 4, "title": "North [mm]", "titlePadding": 3, "format": "d"}}}},
{"mark": {"type": "circle", "color": "#ff0000", "size": 20, "opacity": 1},
 "encoding": {"x": {"field": "t", "type": "quantitative", "scale": {"domain": [2006.23, 2021.41], "nice": false, "zero": false},
  "axis": {"orient": "bottom", "values": [2007,2008,2009,2010,2011,2012,2013,2014,2015,2016,2017,2018,2019,2020,2021], "grid": true, "tickSize": 7, "labels": false, "title": null}},
  "y": {"field": "n", "type": "quantitative", "scale": {"domain": [-36.75, 37.25], "nice": false, "zero": false},
  "axis": {"orient": "left", "values": [-30, -20, -10, 0, 10, 20, 30], "grid": false, "tickSize": -7, "labels": false, "title": null}}}},
{"transform": [{"filter": "datum.t == 2021.19"}],
 "mark": {"type": "circle", "fill": "#7fd67f", "stroke": "#4a4a4a", "strokeWidth": 1, "size": 30, "opacity": 1},
 "encoding": {"x": {"field": "t", "type": "quantitative", "scale": {"domain": [2006.23, 2021.41], "nice": false, "zero": false},
  "axis": {"orient": "bottom", "values": [2007,2008,2009,2010,2011,2012,2013,2014,2015,2016,2017,2018,2019,2020,2021], "grid": false, "tickSize": -7, "labels": false, "title": null}},
  "y": {"field": "n", "type": "quantitative", "scale": {"domain": [-36.75, 37.25], "nice": false, "zero": false},
  "axis": {"orient": "left", "values": [-36,-34,-32,-28,-26,-24,-22,-18,-16,-14,-12,-8,-6,-4,-2,2,4,6,8,12,14,16,18,22,24,26,28,32,34,36], "grid": false, "tickSize": -3.5, "labels": false, "title": null}}}},
{"transform": [{"filter": "datum.t == 2021.19"}],
 "mark": {"type": "point", "opacity": 0},
 "encoding": {"x": {"field": "t", "type": "quantitative", "scale": {"domain": [2006.23, 2021.41], "nice": false, "zero": false},
  "axis": {"orient": "bottom", "values": [2006.25,2006.5,2006.75,2007.25,2007.5,2007.75,2008.25,2008.5,2008.75,2009.25,2009.5,2009.75,2010.25,2010.5,2010.75,2011.25,2011.5,2011.75,2012.25,2012.5,2012.75,2013.25,2013.5,2013.75,2014.25,2014.5,2014.75,2015.25,2015.5,2015.75,2016.25,2016.5,2016.75,2017.25,2017.5,2017.75,2018.25,2018.5,2018.75,2019.25,2019.5,2019.75,2020.25,2020.5,2020.75,2021.25], "grid": false, "tickSize": -3.5, "labels": false, "title": null}},
  "y": {"field": "n", "type": "quantitative", "scale": {"domain": [-36.75, 37.25], "nice": false, "zero": false},
  "axis": {"orient": "right", "values": [-30, -20, -10, 0, 10, 20, 30], "grid": false, "tickSize": -7, "labels": false, "title": null}}}},
{"transform": [{"filter": "datum.t == 2021.19"}],
 "mark": {"type": "point", "opacity": 0},
 "encoding": {"x": {"field": "t", "type": "quantitative", "scale": {"domain": [2006.23, 2021.41], "nice": false, "zero": false},
  "axis": {"orient": "top", "values": [2007,2008,2009,2010,2011,2012,2013,2014,2015,2016,2017,2018,2019,2020,2021], "grid": false, "tickSize": 7, "labels": false, "title": null}},
  "y": {"field": "n", "type": "quantitative", "scale": {"domain": [-36.75, 37.25], "nice": false, "zero": false},
  "axis": {"orient": "right", "values": [-36,-34,-32,-28,-26,-24,-22,-18,-16,-14,-12,-8,-6,-4,-2,2,4,6,8,12,14,16,18,22,24,26,28,32,34,36], "grid": false, "tickSize": -3.5, "labels": false, "title": null}}}},
{"transform": [{"filter": "datum.t == 2021.19"}],
 "mark": {"type": "point", "opacity": 0},
 "encoding": {"x": {"field": "t", "type": "quantitative", "scale": {"domain": [2006.23, 2021.41], "nice": false, "zero": false},
  "axis": {"orient": "top", "values": [2007,2008,2009,2010,2011,2012,2013,2014,2015,2016,2017,2018,2019,2020,2021], "grid": false, "tickSize": -7, "labels": false, "title": null}},
  "y": {"field": "n", "type": "quantitative", "scale": {"domain": [-36.75, 37.25], "nice": false, "zero": false}, "axis": null}}},
{"transform": [{"filter": "datum.t == 2021.19"}],
 "mark": {"type": "point", "opacity": 0},
 "encoding": {"x": {"field": "t", "type": "quantitative", "scale": {"domain": [2006.23, 2021.41], "nice": false, "zero": false},
  "axis": {"orient": "top", "values": [2006.25,2006.5,2006.75,2007.25,2007.5,2007.75,2008.25,2008.5,2008.75,2009.25,2009.5,2009.75,2010.25,2010.5,2010.75,2011.25,2011.5,2011.75,2012.25,2012.5,2012.75,2013.25,2013.5,2013.75,2014.25,2014.5,2014.75,2015.25,2015.5,2015.75,2016.25,2016.5,2016.75,2017.25,2017.5,2017.75,2018.25,2018.5,2018.75,2019.25,2019.5,2019.75,2020.25,2020.5,2020.75,2021.25], "grid": false, "tickSize": -3.5, "labels": false, "title": null}},
  "y": {"field": "n", "type": "quantitative", "scale": {"domain": [-36.75, 37.25], "nice": false, "zero": false}, "axis": null}}}
],
"resolve": {"axis": {"x": "independent", "y": "independent"}}
},
{
"width": 591, "height": 296,
"layer": [
{"mark": {"type": "errorbar", "ticks": {"size": 5}, "color": "#8c8c8c"},
 "encoding": {"x": {"field": "t", "type": "quantitative", "scale": {"domain": [2006.23, 2021.41], "nice": false, "zero": false}, "axis": null},
  "y": {"field": "e", "type": "quantitative", "scale": {"domain": [-37.3, 41.1], "nice": false, "zero": false}, "axis": null},
  "yError": {"field": "sh"}}},
{"mark": {"type": "rule", "color": "#333", "strokeWidth": 1.5},
 "encoding": {"y": {"datum": 0, "type": "quantitative", "scale": {"domain": [-37.3, 41.1], "nice": false, "zero": false},
  "axis": {"orient": "left", "values": [-30, -20, -10, 0, 10, 20, 30, 40], "grid": true, "ticks": false, "labelPadding": 4, "title": "East [mm]", "titlePadding": 3, "format": "d"}}}},
{"mark": {"type": "circle", "color": "#ff0000", "size": 20, "opacity": 1},
 "encoding": {"x": {"field": "t", "type": "quantitative", "scale": {"domain": [2006.23, 2021.41], "nice": false, "zero": false},
  "axis": {"orient": "bottom", "values": [2007,2008,2009,2010,2011,2012,2013,2014,2015,2016,2017,2018,2019,2020,2021], "grid": true, "tickSize": 7, "labels": false, "title": null}},
  "y": {"field": "e", "type": "quantitative", "scale": {"domain": [-37.3, 41.1], "nice": false, "zero": false},
  "axis": {"orient": "left", "values": [-30, -20, -10, 0, 10, 20, 30, 40], "grid": false, "tickSize": -7, "labels": false, "title": null}}}},
{"transform": [{"filter": "datum.t == 2021.19"}],
 "mark": {"type": "circle", "fill": "#7fd67f", "stroke": "#4a4a4a", "strokeWidth": 1, "size": 30, "opacity": 1},
 "encoding": {"x": {"field": "t", "type": "quantitative", "scale": {"domain": [2006.23, 2021.41], "nice": false, "zero": false},
  "axis": {"orient": "bottom", "values": [2007,2008,2009,2010,2011,2012,2013,2014,2015,2016,2017,2018,2019,2020,2021], "grid": false, "tickSize": -7, "labels": false, "title": null}},
  "y": {"field": "e", "type": "quantitative", "scale": {"domain": [-37.3, 41.1], "nice": false, "zero": false},
  "axis": {"orient": "left", "values": [-36,-34,-32,-28,-26,-24,-22,-18,-16,-14,-12,-8,-6,-4,-2,2,4,6,8,12,14,16,18,22,24,26,28,32,34,36,38], "grid": false, "tickSize": -3.5, "labels": false, "title": null}}}},
{"transform": [{"filter": "datum.t == 2021.19"}],
 "mark": {"type": "point", "opacity": 0},
 "encoding": {"x": {"field": "t", "type": "quantitative", "scale": {"domain": [2006.23, 2021.41], "nice": false, "zero": false},
  "axis": {"orient": "bottom", "values": [2006.25,2006.5,2006.75,2007.25,2007.5,2007.75,2008.25,2008.5,2008.75,2009.25,2009.5,2009.75,2010.25,2010.5,2010.75,2011.25,2011.5,2011.75,2012.25,2012.5,2012.75,2013.25,2013.5,2013.75,2014.25,2014.5,2014.75,2015.25,2015.5,2015.75,2016.25,2016.5,2016.75,2017.25,2017.5,2017.75,2018.25,2018.5,2018.75,2019.25,2019.5,2019.75,2020.25,2020.5,2020.75,2021.25], "grid": false, "tickSize": -3.5, "labels": false, "title": null}},
  "y": {"field": "e", "type": "quantitative", "scale": {"domain": [-37.3, 41.1], "nice": false, "zero": false},
  "axis": {"orient": "right", "values": [-30, -20, -10, 0, 10, 20, 30, 40], "grid": false, "tickSize": -7, "labels": false, "title": null}}}},
{"transform": [{"filter": "datum.t == 2021.19"}],
 "mark": {"type": "point", "opacity": 0},
 "encoding": {"x": {"field": "t", "type": "quantitative", "scale": {"domain": [2006.23, 2021.41], "nice": false, "zero": false},
  "axis": {"orient": "top", "values": [2007,2008,2009,2010,2011,2012,2013,2014,2015,2016,2017,2018,2019,2020,2021], "grid": false, "tickSize": 7, "labels": false, "title": null}},
  "y": {"field": "e", "type": "quantitative", "scale": {"domain": [-37.3, 41.1], "nice": false, "zero": false},
  "axis": {"orient": "right", "values": [-36,-34,-32,-28,-26,-24,-22,-18,-16,-14,-12,-8,-6,-4,-2,2,4,6,8,12,14,16,18,22,24,26,28,32,34,36,38], "grid": false, "tickSize": -3.5, "labels": false, "title": null}}}},
{"transform": [{"filter": "datum.t == 2021.19"}],
 "mark": {"type": "point", "opacity": 0},
 "encoding": {"x": {"field": "t", "type": "quantitative", "scale": {"domain": [2006.23, 2021.41], "nice": false, "zero": false},
  "axis": {"orient": "top", "values": [2007,2008,2009,2010,2011,2012,2013,2014,2015,2016,2017,2018,2019,2020,2021], "grid": false, "tickSize": -7, "labels": false, "title": null}},
  "y": {"field": "e", "type": "quantitative", "scale": {"domain": [-37.3, 41.1], "nice": false, "zero": false}, "axis": null}}},
{"transform": [{"filter": "datum.t == 2021.19"}],
 "mark": {"type": "point", "opacity": 0},
 "encoding": {"x": {"field": "t", "type": "quantitative", "scale": {"domain": [2006.23, 2021.41], "nice": false, "zero": false},
  "axis": {"orient": "top", "values": [2006.25,2006.5,2006.75,2007.25,2007.5,2007.75,2008.25,2008.5,2008.75,2009.25,2009.5,2009.75,2010.25,2010.5,2010.75,2011.25,2011.5,2011.75,2012.25,2012.5,2012.75,2013.25,2013.5,2013.75,2014.25,2014.5,2014.75,2015.25,2015.5,2015.75,2016.25,2016.5,2016.75,2017.25,2017.5,2017.75,2018.25,2018.5,2018.75,2019.25,2019.5,2019.75,2020.25,2020.5,2020.75,2021.25], "grid": false, "tickSize": -3.5, "labels": false, "title": null}},
  "y": {"field": "e", "type": "quantitative", "scale": {"domain": [-37.3, 41.1], "nice": false, "zero": false}, "axis": null}}}
],
"resolve": {"axis": {"x": "independent", "y": "independent"}}
},
{
"width": 591, "height": 296,
"layer": [
{"mark": {"type": "errorbar", "ticks": {"size": 5}, "color": "#8c8c8c"},
 "encoding": {"x": {"field": "t", "type": "quantitative", "scale": {"domain": [2006.23, 2021.41], "nice": false, "zero": false}, "axis": null},
  "y": {"field": "u", "type": "quantitative", "scale": {"domain": [-111.5, 27], "nice": false, "zero": false}, "axis": null},
  "yError": {"field": "sv"}}},
{"mark": {"type": "rule", "color": "#333", "strokeWidth": 1.5},
 "encoding": {"y": {"datum": 0, "type": "quantitative", "scale": {"domain": [-111.5, 27], "nice": false, "zero": false},
  "axis": {"orient": "left", "values": [-100, -80, -60, -40, -20, 0, 20], "grid": true, "ticks": false, "labelPadding": 4, "title": "Up [mm]", "titlePadding": 3, "format": "d"}}}},
{"mark": {"type": "circle", "color": "#ff0000", "size": 20, "opacity": 1},
 "encoding": {"x": {"field": "t", "type": "quantitative", "scale": {"domain": [2006.23, 2021.41], "nice": false, "zero": false},
  "axis": {"orient": "bottom", "values": [2007,2008,2009,2010,2011,2012,2013,2014,2015,2016,2017,2018,2019,2020,2021], "grid": true, "tickSize": 7, "labels": true, "labelExpr": "datum.value % 2 == 0 ? format(datum.value, 'd') : ''", "labelOffset": 10, "labelPadding": 10, "title": null}},
  "y": {"field": "u", "type": "quantitative", "scale": {"domain": [-111.5, 27], "nice": false, "zero": false},
  "axis": {"orient": "left", "values": [-100, -80, -60, -40, -20, 0, 20], "grid": false, "tickSize": -7, "labels": false, "title": null}}}},
{"transform": [{"filter": "datum.t == 2021.19"}],
 "mark": {"type": "circle", "fill": "#7fd67f", "stroke": "#4a4a4a", "strokeWidth": 1, "size": 30, "opacity": 1},
 "encoding": {"x": {"field": "t", "type": "quantitative", "scale": {"domain": [2006.23, 2021.41], "nice": false, "zero": false},
  "axis": {"orient": "bottom", "values": [2007,2008,2009,2010,2011,2012,2013,2014,2015,2016,2017,2018,2019,2020,2021], "grid": false, "tickSize": -7, "labels": false, "title": null}},
  "y": {"field": "u", "type": "quantitative", "scale": {"domain": [-111.5, 27], "nice": false, "zero": false},
  "axis": {"orient": "left", "values": [-110,-105,-95,-90,-85,-75,-70,-65,-55,-50,-45,-35,-30,-25,-15,-10,-5,5,10,15,25], "grid": false, "tickSize": -3.5, "labels": false, "title": null}}}},
{"transform": [{"filter": "datum.t == 2021.19"}],
 "mark": {"type": "point", "opacity": 0},
 "encoding": {"x": {"field": "t", "type": "quantitative", "scale": {"domain": [2006.23, 2021.41], "nice": false, "zero": false},
  "axis": {"orient": "bottom", "values": [2006.25,2006.5,2006.75,2007.25,2007.5,2007.75,2008.25,2008.5,2008.75,2009.25,2009.5,2009.75,2010.25,2010.5,2010.75,2011.25,2011.5,2011.75,2012.25,2012.5,2012.75,2013.25,2013.5,2013.75,2014.25,2014.5,2014.75,2015.25,2015.5,2015.75,2016.25,2016.5,2016.75,2017.25,2017.5,2017.75,2018.25,2018.5,2018.75,2019.25,2019.5,2019.75,2020.25,2020.5,2020.75,2021.25], "grid": false, "tickSize": -3.5, "labels": false, "title": null}},
  "y": {"field": "u", "type": "quantitative", "scale": {"domain": [-111.5, 27], "nice": false, "zero": false},
  "axis": {"orient": "right", "values": [-100, -80, -60, -40, -20, 0, 20], "grid": false, "tickSize": -7, "labels": false, "title": null}}}},
{"transform": [{"filter": "datum.t == 2021.19"}],
 "mark": {"type": "point", "opacity": 0},
 "encoding": {"x": {"field": "t", "type": "quantitative", "scale": {"domain": [2006.23, 2021.41], "nice": false, "zero": false},
  "axis": {"orient": "top", "values": [2007,2008,2009,2010,2011,2012,2013,2014,2015,2016,2017,2018,2019,2020,2021], "grid": false, "tickSize": 7, "labels": false, "title": null}},
  "y": {"field": "u", "type": "quantitative", "scale": {"domain": [-111.5, 27], "nice": false, "zero": false},
  "axis": {"orient": "right", "values": [-110,-105,-95,-90,-85,-75,-70,-65,-55,-50,-45,-35,-30,-25,-15,-10,-5,5,10,15,25], "grid": false, "tickSize": -3.5, "labels": false, "title": null}}}},
{"transform": [{"filter": "datum.t == 2021.19"}],
 "mark": {"type": "point", "opacity": 0},
 "encoding": {"x": {"field": "t", "type": "quantitative", "scale": {"domain": [2006.23, 2021.41], "nice": false, "zero": false},
  "axis": {"orient": "top", "values": [2007,2008,2009,2010,2011,2012,2013,2014,2015,2016,2017,2018,2019,2020,2021], "grid": false, "tickSize": -7, "labels": false, "title": null}},
  "y": {"field": "u", "type": "quantitative", "scale": {"domain": [-111.5, 27], "nice": false, "zero": false}, "axis": null}}},
{"transform": [{"filter": "datum.t == 2021.19"}],
 "mark": {"type": "point", "opacity": 0},
 "encoding": {"x": {"field": "t", "type": "quantitative", "scale": {"domain": [2006.23, 2021.41], "nice": false, "zero": false},
  "axis": {"orient": "top", "values": [2006.25,2006.5,2006.75,2007.25,2007.5,2007.75,2008.25,2008.5,2008.75,2009.25,2009.5,2009.75,2010.25,2010.5,2010.75,2011.25,2011.5,2011.75,2012.25,2012.5,2012.75,2013.25,2013.5,2013.75,2014.25,2014.5,2014.75,2015.25,2015.5,2015.75,2016.25,2016.5,2016.75,2017.25,2017.5,2017.75,2018.25,2018.5,2018.75,2019.25,2019.5,2019.75,2020.25,2020.5,2020.75,2021.25], "grid": false, "tickSize": -3.5, "labels": false, "title": null}},
  "y": {"field": "u", "type": "quantitative", "scale": {"domain": [-111.5, 27], "nice": false, "zero": false}, "axis": null}}}
],
"resolve": {"axis": {"x": "independent", "y": "independent"}}
}
]
}
